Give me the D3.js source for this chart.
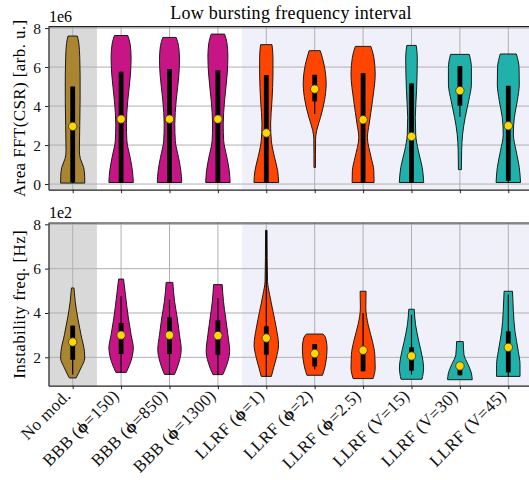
<!DOCTYPE html>
<html lang="en">
<head>
<meta charset="utf-8">
<title>Low bursting frequency interval</title>
<script src="https://cdn.jsdelivr.net/npm/d3@7"></script>
<style>
  body { margin: 0; background: white; }
  svg { font-family: "Liberation Serif", "DejaVu Serif", serif; }
  .axis path, .axis line { stroke: #222; }
  .axis text { font-size: 15.5px; fill: #111; font-family: "Liberation Serif", serif; }
</style>
</head>
<body>
<script>
// categories and their colour group
var categories = ["No mod.", "BBB (ϕ=150)", "BBB (ϕ=850)", "BBB (ϕ=1300)",
  "LLRF (ϕ=1)", "LLRF (ϕ=2)", "LLRF (ϕ=2.5)", "LLRF (V=15)", "LLRF (V=30)", "LLRF (V=45)"];
var groupOf = [0, 1, 1, 1, 2, 2, 2, 3, 3, 3];
var groupColors = ["#aa8532", "#c71585", "#ff4500", "#20b2aa"];

var yTicks = [0, 2, 4, 6, 8];

// top panel: Area FFT(CSR), units of 1e6
// violin outline: [value, relative half width]
var fftProfiles = [
  [[7.59,0.38],[7.2,0.5],[6.5,0.57],[5.6,0.6],[4.3,0.6],[3.0,0.57],[1.7,0.54],[1.3,0.62],[0.85,0.89],[0.4,0.97],[0.05,0.98]],
  [[7.62,0.54],[7.18,0.73],[6.5,0.81],[5.64,0.76],[4.27,0.54],[3.08,0.43],[2.22,0.47],[1.37,0.73],[0.68,0.92],[0.08,0.99]],
  [[7.52,0.54],[7.1,0.73],[6.4,0.81],[5.6,0.76],[4.27,0.54],[3.08,0.43],[2.22,0.47],[1.37,0.73],[0.68,0.92],[0.08,0.99]],
  [[7.69,0.54],[7.25,0.73],[6.55,0.81],[5.7,0.76],[4.27,0.54],[3.08,0.43],[2.22,0.47],[1.37,0.73],[0.68,0.92],[0.08,0.99]],
  [[7.15,0.46],[6.5,0.54],[5.64,0.54],[4.27,0.46],[3.08,0.35],[2.22,0.41],[1.37,0.67],[0.68,0.92],[0.08,1.0]],
  [[6.84,0.45],[6.15,0.75],[5.13,0.93],[4.27,0.79],[3.42,0.47],[2.74,0.16],[2.3,0.07],[1.5,0.06],[0.85,0.06]],
  [[7.06,0.63],[6.5,0.87],[5.64,0.98],[4.27,0.76],[3.08,0.49],[2.39,0.35],[1.37,0.65],[0.68,0.87],[0.08,0.89]],
  [[7.11,0.38],[6.5,0.47],[4.79,0.41],[3.42,0.31],[2.56,0.34],[1.71,0.55],[0.85,0.87],[0.08,0.99]],
  [[6.65,0.76],[5.98,0.93],[5.13,0.93],[4.27,0.71],[3.42,0.43],[2.56,0.22],[1.71,0.14],[0.74,0.12]],
  [[6.67,0.65],[5.98,0.87],[5.13,0.89],[4.27,0.73],[3.42,0.49],[2.56,0.41],[1.71,0.63],[0.85,0.89],[0.08,0.99]]
];
var fftQ1 = [0.08, 0.08, 0.08, 0.08, 0.08, 4.24, 0.08, 0.08, 4.02, 0.17];
var fftQ3 = [5.0, 5.76, 5.9, 5.83, 5.59, 5.6, 5.68, 5.16, 6.05, 5.04];
var fftMedian = [2.96, 3.33, 3.33, 3.33, 2.62, 4.87, 3.3, 2.44, 4.79, 2.99];
var fftWhiskerLo = [0.05, 0.08, 0.08, 0.08, 0.08, 3.59, 0.08, 0.08, 3.45, 0.1];
var fftWhiskerHi = [5.0, 5.76, 5.9, 5.83, 5.59, 5.6, 5.68, 5.16, 6.05, 5.04];

// bottom panel: instability frequency, units of 1e2 Hz
var freqProfiles = [
  [[5.13,0.1],[4.53,0.2],[3.77,0.41],[3.02,0.67],[2.27,0.95],[1.97,0.98],[1.52,0.67],[1.07,0.27]],
  [[5.53,0.2],[4.83,0.35],[3.77,0.59],[3.02,0.81],[2.42,0.99],[1.97,0.87],[1.32,0.42]],
  [[5.38,0.27],[4.53,0.41],[3.77,0.63],[3.02,0.81],[2.35,0.95],[1.82,0.79],[1.23,0.41]],
  [[5.28,0.35],[4.53,0.45],[3.77,0.63],[3.02,0.81],[2.27,0.95],[1.8,0.8],[1.22,0.4]],
  [[7.73,0.06],[6.5,0.07],[5.43,0.1],[4.83,0.27],[4.08,0.54],[3.32,0.81],[2.57,0.99],[1.97,0.81],[1.52,0.59],[1.14,0.41]],
  [[3.05,0.67],[2.87,0.89],[2.42,1.0],[1.97,0.95],[1.52,0.81],[1.19,0.63]],
  [[4.98,0.24],[4.23,0.22],[3.47,0.41],[2.72,0.76],[2.12,0.95],[1.52,0.98],[1.04,0.81]],
  [[4.17,0.22],[3.47,0.33],[2.72,0.59],[1.97,0.89],[1.52,0.98],[1.01,0.85]],
  [[2.71,0.27],[2.12,0.33],[1.67,0.67],[1.29,0.93],[0.99,1.0]],
  [[4.98,0.34],[4.08,0.41],[3.17,0.54],[2.27,0.81],[1.67,0.95],[1.14,0.95]]
];
var freqQ1 = [1.89, 2.15, 2.15, 2.12, 2.12, 1.59, 1.37, 1.4, 1.19, 1.32];
var freqQ3 = [3.43, 3.55, 3.8, 3.67, 3.4, 2.6, 2.45, 2.45, 1.79, 3.17];
var freqMedian = [2.69, 3.0, 3.0, 2.98, 2.87, 2.17, 2.32, 2.06, 1.61, 2.45];
var freqWhiskerLo = [1.22, 1.32, 1.23, 1.22, 1.14, 1.45, 1.37, 1.22, 1.19, 1.14];
var freqWhiskerHi = [3.43, 4.75, 4.6, 4.68, 7.73, 2.6, 4.0, 3.92, 1.79, 4.83];

var width = 529, height = 480;

var svg = d3.select("body").append("svg")
  .attr("width", width)
  .attr("height", height);

var x = d3.scaleLinear().domain([-0.5, 9.5]).range([48.5, 532.5]);
var halfWidth = d3.scaleLinear().domain([0, 1]).range([0, 0.255]);

var yTop = d3.scaleLinear().domain([-0.29, 8.07]).range([189.7, 26.7]);
var yBot = d3.scaleLinear().domain([0.72, 8.06]).range([385.7, 223]);

function drawPanel(yScale, profiles, q1, q3, med, wlo, whi, showLabels) {
  var g = svg.append("g");
  var y0 = yScale.range()[0], y1 = yScale.range()[1];
  var dom = yScale.domain();
  var ticks = yTicks.filter(function(t) { return t >= dom[0] && t <= dom[1]; });

  // shaded backgrounds
  g.append("rect").attr("x", x(-0.5)).attr("y", y1)
    .attr("width", x(0.5) - x(-0.5)).attr("height", y0 - y1)
    .attr("fill", "#d9d9d9");
  g.append("rect").attr("x", x(3.5)).attr("y", y1)
    .attr("width", x(9.5) - x(3.5)).attr("height", y0 - y1)
    .attr("fill", "#f0f0fa");

  // grid
  g.selectAll(".hgrid").data(ticks).enter().append("line")
    .attr("x1", x(-0.5)).attr("x2", x(9.5))
    .attr("y1", function(d) { return yScale(d); })
    .attr("y2", function(d) { return yScale(d); })
    .attr("stroke", "#b0b0b0").attr("stroke-width", 1);
  g.selectAll(".vgrid").data(d3.range(categories.length)).enter().append("line")
    .attr("x1", function(d) { return x(d); })
    .attr("x2", function(d) { return x(d); })
    .attr("y1", y0).attr("y2", y1)
    .attr("stroke", "#b0b0b0").attr("stroke-width", 1);

  // violins
  profiles.forEach(function(prof, i) {
    var area = d3.area()
      .curve(d3.curveMonotoneY)
      .y(function(d) { return yScale(d[0]); })
      .x0(function(d) { return x(i - halfWidth(d[1])); })
      .x1(function(d) { return x(i + halfWidth(d[1])); });
    g.append("path")
      .datum(prof)
      .attr("d", area)
      .attr("fill", groupColors[groupOf[i]])
      .attr("stroke", "#1a1a1a")
      .attr("stroke-width", 1);

    g.append("line")
      .attr("x1", x(i)).attr("x2", x(i))
      .attr("y1", yScale(wlo[i])).attr("y2", yScale(whi[i]))
      .attr("stroke", "black").attr("stroke-width", 1.2);
    g.append("rect")
      .attr("x", x(i) - 2.4).attr("width", 4.8)
      .attr("y", yScale(q3[i]))
      .attr("height", yScale(q1[i]) - yScale(q3[i]))
      .attr("fill", "black");
    g.append("circle")
      .attr("cx", x(i)).attr("cy", yScale(med[i]))
      .attr("r", 4.2)
      .attr("fill", "#ffd700")
      .attr("stroke", "#333")
      .attr("stroke-width", 0.8);
  });

  // axes
  g.append("g").attr("class", "axis")
    .attr("transform", "translate(" + x(-0.5) + ",0)")
    .call(d3.axisLeft(yScale).tickValues(ticks).tickSize(3.5).tickPadding(4).tickSizeOuter(0));
  g.append("g").attr("class", "axis")
    .attr("transform", "translate(0," + y0 + ")")
    .call(d3.axisBottom(x).tickValues(d3.range(categories.length)).tickSize(3.5).tickSizeOuter(0).tickFormat(""));
  g.selectAll(".axis path").attr("stroke-width", 1.2);
  g.append("line")
    .attr("x1", x(-0.5)).attr("x2", x(9.5))
    .attr("y1", y1).attr("y2", y1)
    .attr("stroke", "#222").attr("stroke-width", 1.2);

  if (showLabels) {
    categories.forEach(function(c, i) {
      var t = g.append("text")
        .attr("transform", "translate(" + (x(i) - 1) + "," + (y0 + 11) + ") rotate(-45)")
        .attr("text-anchor", "end")
        .attr("font-size", 17)
        .attr("letter-spacing", 0.4)
        .attr("fill", "#111");
      c.split(/(ϕ)/).forEach(function(part) {
        if (!part) return;
        var s = t.append("tspan").text(part);
        if (part === "ϕ") s.attr("font-weight", "bold");
      });
    });
  }
  return g;
}

drawPanel(yTop, fftProfiles, fftQ1, fftQ3, fftMedian, fftWhiskerLo, fftWhiskerHi, false);
drawPanel(yBot, freqProfiles, freqQ1, freqQ3, freqMedian, freqWhiskerLo, freqWhiskerHi, true);

// titles and labels
svg.append("text")
  .attr("x", 291).attr("y", 19)
  .attr("text-anchor", "middle")
  .attr("font-size", 18)
  .attr("letter-spacing", 0.3)
  .text("Low bursting frequency interval");

svg.append("text").attr("x", 49).attr("y", 22).attr("font-size", 16).text("1e6");
svg.append("text").attr("x", 49).attr("y", 218).attr("font-size", 16).text("1e2");

svg.append("text")
  .attr("transform", "translate(25," + ((yTop.range()[0] + yTop.range()[1]) / 2) + ") rotate(-90)")
  .attr("text-anchor", "middle")
  .attr("font-size", 17)
  .attr("letter-spacing", 0.4)
  .text("Area FFT(CSR) [arb. u.]");
svg.append("text")
  .attr("transform", "translate(25," + ((yBot.range()[0] + yBot.range()[1]) / 2) + ") rotate(-90)")
  .attr("text-anchor", "middle")
  .attr("font-size", 17)
  .attr("letter-spacing", 0.4)
  .text("Instability freq. [Hz]");
</script>
</body>
</html>
